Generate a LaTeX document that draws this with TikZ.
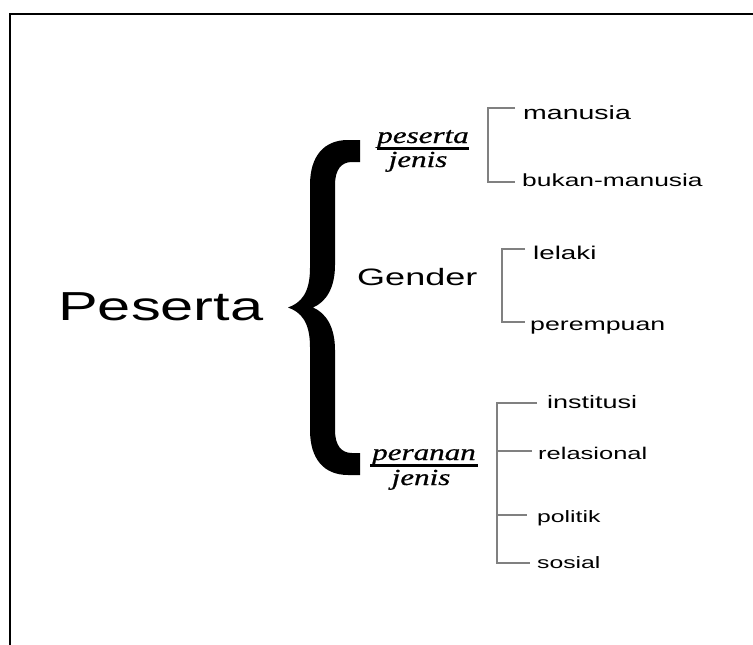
\documentclass[tikz,border=0pt]{standalone}
\usepackage{fontspec}
\setmainfont{Liberation Serif}
\newfontfamily\arial{Liberation Sans}
\newfontfamily\fracfont[FakeBold=0.6]{Liberation Serif Italic}
\begin{document}
\begin{tikzpicture}[x=1pt,y=-1pt,
  lbl/.style={anchor=base west, inner sep=0pt},
  brk/.style={draw=black!50, line width=1.3pt},
  fracbar/.style={line width=2.3pt},
  fractext/.style={anchor=base, inner sep=0pt, font=\fracfont\fontsize{23}{26}\selectfont}]
\useasboundingbox (0,0) rectangle (753,645);
\clip (0,0) rectangle (753,645);
\fill[white] (0,0) rectangle (753,645);
\draw[line width=2pt] (10,670) -- (10,14) -- (780,14);

% root
\node[lbl] (root) at (58,320) {\arial\fontsize{40.5}{44}\selectfont\scalebox{1.47}[1]{Peserta}};

% brace
\fill (360,140) -- (348,140) .. controls (324,140) and (310,156) .. (310,185) -- (310,268)
  .. controls (310,293) and (301,303) .. (288,307.5)
  .. controls (301,312) and (310,322) .. (310,347) -- (310,430)
  .. controls (310,459) and (324,475) .. (348,475) -- (360,475) -- (360,453) -- (352,453)
  .. controls (341,453) and (335,445) .. (335,430) -- (335,350)
  .. controls (335,327) and (326,313) .. (313,307.5)
  .. controls (326,302) and (335,288) .. (335,265) -- (335,185)
  .. controls (335,170) and (341,162) .. (352,162) -- (360,162) -- cycle;

% fraction 1
\node[fractext] (f1n) at (423,143) {\scalebox{1.35}[1]{peserta}};
\node[fractext] (f1d) at (418,167) {\scalebox{1.35}[1]{jenis}};
\coordinate (f1l) at (377,148.5);
\coordinate (f1r) at (469,148.5);
\draw[fracbar] (f1l) -- (f1r);

% Gender
\node[lbl] (gender) at (357,285) {\arial\fontsize{23.7}{26}\selectfont\scalebox{1.52}[1]{Gender}};

% fraction 2
\node[fractext] (f2n) at (424,460) {\scalebox{1.35}[1]{peranan}};
\node[fractext] (f2d) at (421,485) {\scalebox{1.35}[1]{jenis}};
\coordinate (f2l) at (370,465.5);
\coordinate (f2r) at (478,465.5);
\draw[fracbar] (f2l) -- (f2r);

% group 1
\node[lbl] (manusia) at (523,119) {\arial\fontsize{19}{21}\selectfont\scalebox{1.5}[1]{manusia}};
\node[lbl] (bukan) at (522,186) {\arial\fontsize{17.6}{20}\selectfont\scalebox{1.5}[1]{bukan-manusia}};
\coordinate (b1a) at (515,108);
\coordinate (b1b) at (515,182);
\draw[brk] (b1a) -- (488,108) -- (488,182) -- (b1b);

% group 2
\node[lbl] (lelaki) at (533,259) {\arial\fontsize{18.5}{20}\selectfont\scalebox{1.5}[1]{lelaki}};
\node[lbl] (perempuan) at (530,330) {\arial\fontsize{17.8}{20}\selectfont\scalebox{1.5}[1]{perempuan}};
\coordinate (b2a) at (525,249);
\coordinate (b2b) at (525,322);
\draw[brk] (b2a) -- (502,249) -- (502,322) -- (b2b);

% group 3
\node[lbl] (inst) at (547,408) {\arial\fontsize{18}{20}\selectfont\scalebox{1.5}[1]{institusi}};
\node[lbl] (rel) at (538,459) {\arial\fontsize{17}{20}\selectfont\scalebox{1.5}[1]{relasional}};
\node[lbl] (pol) at (537,522) {\arial\fontsize{16.5}{20}\selectfont\scalebox{1.5}[1]{politik}};
\node[lbl] (sos) at (537,568) {\arial\fontsize{16.5}{20}\selectfont\scalebox{1.5}[1]{sosial}};
\coordinate (s3t) at (497,403);
\coordinate (s3b) at (497,563);
\coordinate (t1) at (537,403);
\coordinate (t2) at (532,451);
\coordinate (t3) at (527,515);
\coordinate (t4) at (530,563);
\draw[brk] (t1) -- (s3t) -- (s3b) -- (t4);
\draw[brk] (497,451) -- (t2);
\draw[brk] (497,515) -- (t3);
\end{tikzpicture}
\end{document}
